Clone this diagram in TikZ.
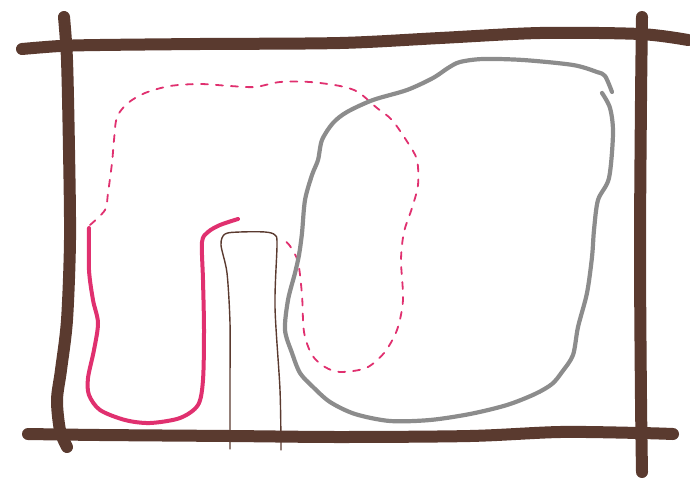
\documentclass[tikz,border=0pt]{standalone}
\definecolor{framebrown}{HTML}{5A3A2F}
\definecolor{inkpink}{HTML}{E0306F}
\definecolor{inkgray}{HTML}{8C8C8C}
\tikzset{
  frameline/.style={draw=framebrown, line width=12pt, line cap=round, line join=round},
  pinkline/.style={draw=inkpink, line width=4pt, line cap=round, line join=round},
  pinkdash/.style={draw=inkpink, line width=1.8pt, line cap=round, dash pattern=on 7pt off 8pt},
  grayline/.style={draw=inkgray, line width=4.2pt, line cap=round, line join=round},
  pillar/.style={draw=framebrown, line width=1.4pt, line cap=round, line join=round}
}
\begin{document}
\begin{tikzpicture}[x=1pt,y=-1pt]
\useasboundingbox (0,0) rectangle (690,479);
% frame
\draw[frameline] plot[smooth] coordinates {(22,49) (60,46) (100,45) (200,44) (340,43) (440,38) (540,33) (640,34) (688,40)};
\draw[frameline] plot[smooth] coordinates {(64,17) (67,60) (69,150) (70,240) (67,320) (61,370) (57,400) (60,430) (67,447)};
\draw[frameline] plot[smooth] coordinates {(28,434) (100,435) (230,436) (340,437) (470,436) (560,432) (640,433) (673,434)};
\draw[frameline] plot[smooth] coordinates {(642,17) (641,100) (640,250) (641,400) (642,472)};
% pillar
\draw[pillar] plot[smooth] coordinates {(230,449) (230,380) (230,323) (227,273) (221,245) (225,234) (240,232) (265,232) (275,235) (277,245) (275,307) (280,390) (281,450)};
% pink solid
\draw[pinkline] plot[smooth] coordinates {(89,228) (89,270) (93,300) (98,323) (94,350) (88,378) (89,395) (100,410) (125,420) (150,423) (180,418) (198,405) (203,380) (204,330) (203,280) (202,242) (208,232) (220,225) (238,219)};
% pink dashed
\draw[pinkdash] plot[smooth] coordinates {(90,225) (105,210) (108,193) (112,163) (114,140) (117,117) (128,103) (145,93) (170,86) (200,84) (230,86) (255,87) (280,82) (310,82) (340,86) (358,92) (377,108) (392,120) (408,143) (417,160) (418,185) (412,208) (404,232) (401,260) (403,300) (397,330) (384,353) (366,368) (340,372) (325,367) (312,355) (304,332) (302,295) (298,262) (290,246) (284,240)};
% gray blob
\draw[grayline] plot[smooth] coordinates {(612,92) (605,76) (597,72) (573,65) (523,60) (483,59) (460,62) (448,68) (433,78) (407,90) (373,100) (347,112) (333,123) (322,140) (318,160) (312,175) (305,200) (302,233) (299,255) (295,273) (288,300) (285,330) (292,353) (300,373) (313,387) (330,402) (355,414) (390,421) (430,420) (470,414) (507,405) (535,394) (552,384) (562,372) (573,355) (578,327) (587,293) (592,257) (594,230) (598,200) (609,178) (613,133) (610,108) (602,93)};
\end{tikzpicture}
\end{document}
